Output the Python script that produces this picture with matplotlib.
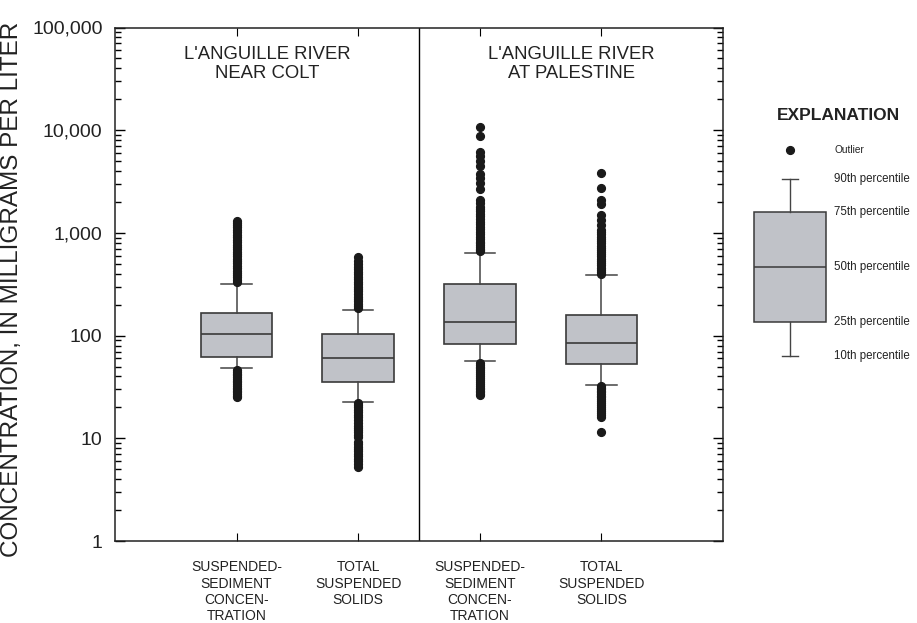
import matplotlib
matplotlib.use("Agg")
import matplotlib.pyplot as plt
from matplotlib.ticker import FixedLocator, FixedFormatter, LogLocator, NullFormatter
import matplotlib.transforms as mtransforms

plt.rcParams['font.family'] = ['Liberation Sans', 'DejaVu Sans']

# data (mg/L)
positions = [1, 2, 3, 4]
tick_labels = ["SUSPENDED-\nSEDIMENT\nCONCEN-\nTRATION", "TOTAL\nSUSPENDED\nSOLIDS",
               "SUSPENDED-\nSEDIMENT\nCONCEN-\nTRATION", "TOTAL\nSUSPENDED\nSOLIDS"]
panel_titles = ["L'ANGUILLE RIVER\nNEAR COLT", "L'ANGUILLE RIVER\nAT PALESTINE"]
panel_centers = [1.25, 3.75]

p10 = [48, 22.7, 56.4, 33.2]
p25 = [62, 35, 82, 53.4]
p50 = [103.5, 60, 136, 85]
p75 = [165, 104, 319, 159]
p90 = [316, 179, 639, 385]

outliers_1 = [330, 350, 370, 390, 410, 430, 455, 480, 505, 530, 560, 590, 620, 650,
              690, 730, 770, 810, 860, 910, 960, 1010, 1070, 1130, 1200, 1260, 1300,
              46, 44, 42.5, 41, 39.5, 38, 36.5, 35, 33.5, 32, 31, 30, 29, 28, 27, 26, 25]
outliers_2 = [185, 195, 205, 215, 225, 240, 255, 270, 285, 300, 315, 335, 355, 375,
              400, 420, 445, 470, 500, 530, 580,
              22, 21, 20, 19, 18, 17, 16, 15, 14, 13.3, 12.6, 12, 11.4, 10.8, 10.3,
              9.2, 8.8, 8.3, 7.9, 7.5, 7.1, 6.7, 6.3, 6.0, 5.6, 5.3]
outliers_3 = [660, 680, 700, 733, 760, 790, 820, 870, 920, 970, 1030, 1090, 1150, 1220,
              1290, 1370, 1450, 1540, 1620, 1700, 1790, 1960, 2110, 2650, 3080, 3450,
              3730, 4500, 5040, 5560, 6100, 8710, 10670,
              54, 52, 50, 48, 46, 44, 42, 40, 38.5, 37, 35.5, 34, 32.5, 31, 30, 29, 28,
              27, 26.3]
outliers_4 = [400, 420, 440, 460, 485, 510, 535, 560, 590, 620, 650, 680, 715, 750, 790,
              830, 870, 920, 970, 1020, 1070, 1200, 1343, 1500, 1930, 2110, 2760, 3840,
              32, 31, 30, 29, 28, 27, 26, 25, 24, 23, 22, 21, 20, 19.2, 18.4, 17.6,
              16.8, 16.1, 11.6]
outliers = [outliers_1, outliers_2, outliers_3, outliers_4]

y_ticks = [1, 10, 100, 1000, 10000, 100000]
y_tick_labels = ["1", "10", "100", "1,000", "10,000", "100,000"]

# schematic values for the explanation box
expl_stats = {"whislo": 0, "q1": 1, "med": 2.65, "q3": 4.3, "whishi": 5.3, "flier": 6.15}
expl_labels = {"flier": "Outlier", "whishi": "90th percentile", "q3": "75th percentile",
               "med": "50th percentile", "q1": "25th percentile", "whislo": "10th percentile"}

box_face = '#c0c2c8'
edge = '#3a3a3a'

fig = plt.figure(figsize=(9.17, 6.23), dpi=100)
ax = fig.add_axes([115 / 917, 1 - 541 / 623, 608 / 917, 513.5 / 623])

stats = []
for i in range(4):
    stats.append({"whislo": p10[i], "q1": p25[i], "med": p50[i], "q3": p75[i],
                  "whishi": p90[i], "fliers": outliers[i]})

ax.bxp(stats, positions=positions, widths=0.59, capwidths=0.25, patch_artist=True,
       boxprops=dict(facecolor=box_face, edgecolor=edge, linewidth=1.2),
       medianprops=dict(color=edge, linewidth=1.2),
       whiskerprops=dict(color='#444444', linewidth=1.1),
       capprops=dict(color='#444444', linewidth=1.1),
       flierprops=dict(marker='o', markersize=5.6, markerfacecolor='#1a1a1a',
                       markeredgecolor='#1a1a1a', linestyle='none'))

ax.axvline(2.5, color='black', linewidth=1)
ax.set_xlim(0, 5)
ax.set_yscale('log')
ax.set_ylim(1, 100000)
ax.yaxis.set_major_locator(FixedLocator(y_ticks))
ax.yaxis.set_major_formatter(FixedFormatter(y_tick_labels))
ax.yaxis.set_minor_locator(LogLocator(base=10, subs=range(2, 10)))
ax.yaxis.set_minor_formatter(NullFormatter())
ax.set_xticks(positions)
ax.set_xticklabels(tick_labels, fontsize=10, color='#222222')

ax.tick_params(axis='y', which='both', direction='in', left=True, right=True,
               labelsize=14, labelcolor='#222222', pad=9, width=1)
ax.tick_params(axis='y', which='major', length=7)
ax.tick_params(axis='y', which='minor', length=4)
ax.tick_params(axis='x', direction='in', top=True, length=6, pad=14)
for sp in ax.spines.values():
    sp.set_linewidth(1.1)
    sp.set_color('#222222')

ax.set_ylabel("CONCENTRATION, IN MILLIGRAMS PER LITER", fontsize=17.5, color='#222222',
              labelpad=8)
ax.yaxis.set_label_coords(-0.1505, 0.49)

trans = mtransforms.blended_transform_factory(ax.transData, ax.transAxes)
for xc, title in zip(panel_centers, panel_titles):
    ax.text(xc, 0.928, title, transform=trans, ha='center', va='center',
            fontsize=13.3, color='#222222', linespacing=1.15)

# explanation
fig.text(838 / 917, 1 - 115 / 623, "EXPLANATION", ha='center', va='center',
         fontsize=12.5, fontweight='bold', color='#222222')
ex = fig.add_axes([740 / 917, 1 - 372.4 / 623, 100 / 917, 237.1 / 623])
ex.bxp([{"whislo": expl_stats["whislo"], "q1": expl_stats["q1"], "med": expl_stats["med"],
         "q3": expl_stats["q3"], "whishi": expl_stats["whishi"],
         "fliers": [expl_stats["flier"]]}],
       positions=[1], widths=1.44, capwidths=0.32, patch_artist=True,
       boxprops=dict(facecolor=box_face, edgecolor=edge, linewidth=1.1),
       medianprops=dict(color=edge, linewidth=1.1),
       whiskerprops=dict(color='#444444', linewidth=1.0),
       capprops=dict(color='#444444', linewidth=1.0),
       flierprops=dict(marker='o', markersize=5.6, markerfacecolor='#1a1a1a',
                       markeredgecolor='#1a1a1a', linestyle='none'))
ex.set_xlim(0, 2)
ex.set_ylim(-0.5, 6.6)
ex.axis('off')
for key, lab in expl_labels.items():
    ex.text(1.88, expl_stats[key], lab, ha='left', va='center', clip_on=False,
            fontsize=7.3 if key == "flier" else 8.3, color='#222222')

fig.savefig("out.png", dpi=100)
